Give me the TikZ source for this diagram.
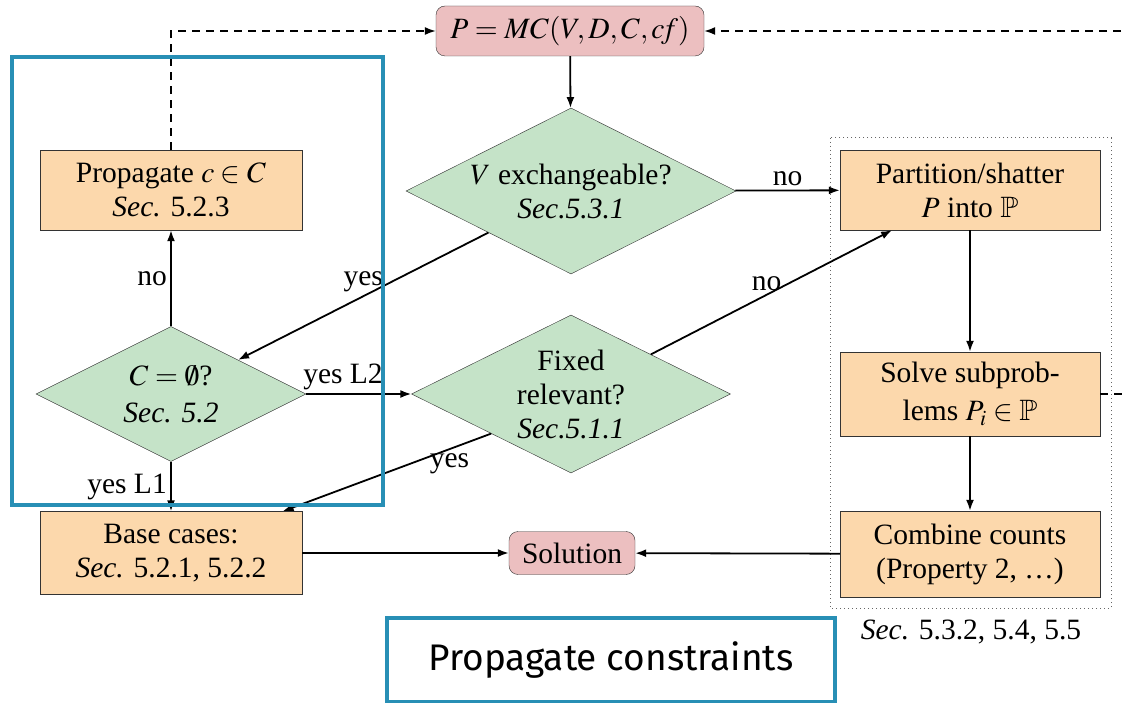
\documentclass[tikz,border=0pt]{standalone}
\usepackage{mathptmx}
\usepackage{amssymb}
\usepackage[no-math]{fontspec}
\setmainfont{Liberation Serif}
\newfontfamily\labelfont{Fira Sans}
\usetikzlibrary{shapes.geometric,arrows.meta}

\definecolor{stepfill}{RGB}{252,216,172}
\definecolor{testfill}{RGB}{197,227,200}
\definecolor{endfill}{RGB}{236,191,192}
\definecolor{hiblue}{RGB}{40,143,181}

\tikzset{
  stepbox/.style={draw=black!80, fill=stepfill, align=center,
    minimum width=262pt, minimum height=80pt, inner sep=2pt},
  testbox/.style={diamond, aspect=2, draw=black!80, fill=testfill,
    align=center, inner sep=-4pt},
  endbox/.style={draw=black!80, fill=endfill, rounded corners=9pt,
    align=center, inner sep=2pt},
  flow/.style={->, line width=1.8pt},
  back/.style={->, line width=1.6pt, dash pattern=on 8pt off 6pt},
  frame/.style={draw=hiblue, line width=3.2pt},
}

\begin{document}
\begin{tikzpicture}[x=1pt,y=-1pt,>={Latex[length=11pt,width=8pt]},
  font=\fontsize{29.5}{34}\selectfont]
  \clip (0,0) rectangle (1122,703);
  \fill[white] (0,0) rectangle (1122,703);

  % dotted group round the right column
  \draw[black!60, line width=1pt, dash pattern=on 1pt off 3pt]
    (830,138) rectangle (1111,608);

  \node[endbox, minimum width=268pt, minimum height=50pt] (mc) at (570,31) {$P=MC(V,D,C,c\!f)$};
  \node[testbox, minimum width=330pt, minimum height=166pt] (exch) at (571,191)
    {$V$ exchangeable?\\ \textit{Sec.5.3.1}};
  \node[stepbox] (prop) at (171,190) {Propagate $c\in C$\\ \textit{Sec.} 5.2.3};
  \node[testbox, minimum width=270pt, minimum height=135pt] (empty) at (171,394)
    {$C=\emptyset$?\\[3pt] \textit{Sec. 5.2}};
  \node[testbox, minimum width=319pt, minimum height=158pt] (fixed) at (571,394)
    {Fixed\\ relevant?\\ \textit{Sec.5.1.1}};
  \node[stepbox, minimum height=83pt] (base) at (171,553) {Base cases:\\ \textit{Sec.} 5.2.1, 5.2.2};
  \node[endbox, minimum width=126pt, minimum height=43pt] (sol) at (572,553) {Solution};
  \node[stepbox, minimum width=260pt] (part) at (970,190) {Partition/shatter\\ $P$ into $\mathbb{P}$};
  \node[stepbox, minimum width=260pt, minimum height=84pt] (solve) at (970,394)
    {Solve subprob-\\[4pt] lems $P_i\in\mathbb{P}$};
  \node[stepbox, minimum width=260pt, minimum height=86pt] (comb) at (970,554)
    {Combine counts\\ (Property 2, \dots)};
  \node (secs) at (971,632) {\textit{Sec.} 5.3.2, 5.4, 5.5};

  \draw[flow] (mc) -- (exch);
  \draw[flow] (exch) -- node[above] (no1) {no} (part);
  \draw[flow] (exch.south west) -- node[above, pos=0.5] (yes1) {yes} (empty);
  \draw[flow] (empty) -- node[left] (no2) {no} (prop);
  \draw[flow] (empty) -- node[above, pos=0.35] (yes2) {yes L2} (fixed);
  \draw[flow] (empty) -- node[left] (yes3) {yes L1} (base);
  \draw[flow] (fixed.north east) -- node[above, pos=0.48] (no3) {no} (part);
  \draw[flow] (fixed.south west) -- node[below, pos=0.2] (yes4) {yes} (base);
  \draw[flow] (part) -- (solve);
  \draw[flow] (solve) -- (comb);
  \draw[flow] (comb) -- (sol);
  \draw[flow] (base) -- (sol);
  \draw[back] (prop.north) |- (mc.west);
  \draw[back] (solve.east) -- ++(60,0) |- (mc.east);

  % highlight
  \draw[frame] (12,57) rectangle (383,505);
  \node[frame, fill=white, minimum width=448pt, minimum height=84pt,
    font=\labelfont\fontsize{37}{44}\selectfont] (tag) at (611,660) {Propagate constraints};
\end{tikzpicture}
\end{document}
